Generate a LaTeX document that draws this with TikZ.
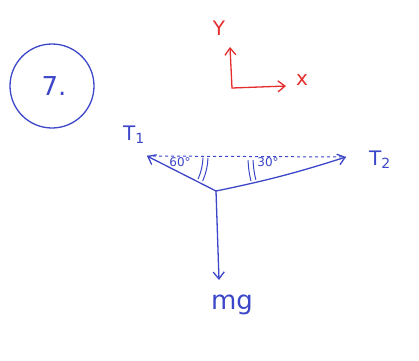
\documentclass[tikz,border=0pt]{standalone}
\usepackage{fontspec}
\setmainfont{DejaVu Sans}
\usetikzlibrary{arrows.meta}
\definecolor{pen}{RGB}{60,70,200}
\definecolor{redpen}{RGB}{230,45,45}
\begin{document}
\begin{tikzpicture}[x=1pt,y=-1pt,
  ink/.style={draw=pen,line width=1.3pt,line cap=round,line join=round},
  redink/.style={draw=redpen,line width=1.3pt,line cap=round},
  tip/.style={-{Straight Barb[length=7pt,width=11pt]}},
  lbl/.style={text=pen,font=\fontsize{20}{22}\selectfont,inner sep=0pt},
  big/.style={text=pen,font=\fontsize{26}{28}\selectfont,inner sep=0pt},
  rlbl/.style={text=redpen,font=\fontsize{20}{22}\selectfont,inner sep=0pt},
  small/.style={text=pen,font=\fontsize{12}{13}\selectfont,inner sep=0pt}]
\useasboundingbox (0,0) rectangle (419,360);
% problem number
\node[ink,circle,minimum size=84pt] (num) at (52,86) {};
\node[big] (seven) at (54,86) {7.};
% axes
\coordinate (o) at (232,88);
\coordinate (ytip) at (230,47);
\coordinate (xtip) at (286,86);
\draw[redink,tip] (o) -- (ytip);
\draw[redink,tip] (o) -- (xtip);
\node[rlbl] (ylab) at (219,28) {Y};
\node[rlbl] (xlab) at (302,80) {x};
% force diagram
\coordinate (j) at (216,191);
\coordinate (t1) at (147,156);
\coordinate (t2) at (346,157);
\coordinate (w) at (219,280);
\draw[pen,line width=1pt,dashed] (t1) -- (t2);
\draw[ink,tip] (j) -- (t1);
\draw[ink,tip] (j) to[bend right=3] (t2);
\draw[ink,tip] (j) -- (w);
% angle arcs
\draw[ink,line width=1pt] (t1) ++(2:56) arc[start angle=2,end angle=24,radius=56];
\draw[ink,line width=1pt] (t1) ++(2:61) arc[start angle=2,end angle=24,radius=61];
\draw[ink,line width=1pt] (t2) ++(178:93) arc[start angle=178,end angle=166,radius=93];
\draw[ink,line width=1pt] (t2) ++(178:98) arc[start angle=178,end angle=166,radius=98];
\node[small] (a60) at (180,162) {60°};
\node[small] (a30) at (268,162) {30°};
\node[lbl] (T1) at (134,135) {T\textsubscript{1}};
\node[lbl] (T2) at (380,160) {T\textsubscript{2}};
\node[big] (mg) at (232,305) {mg};
\end{tikzpicture}
\end{document}
